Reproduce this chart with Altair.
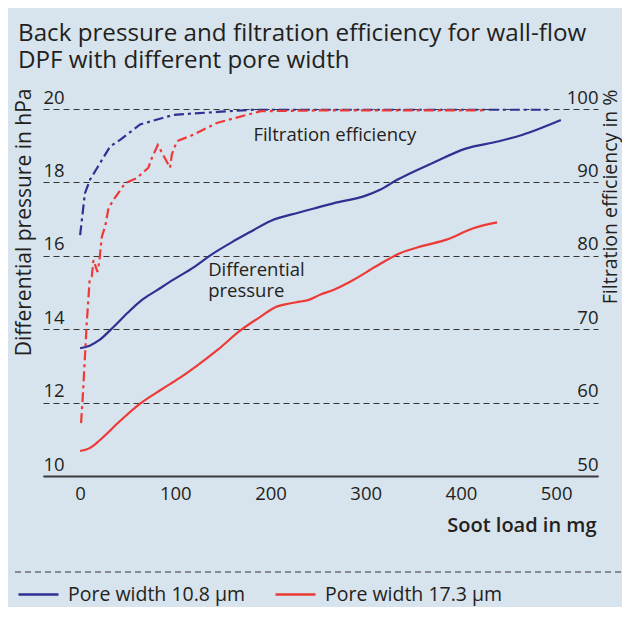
import altair as alt
import pandas as pd

series = ["Pore width 10.8 µm", "Pore width 17.3 µm"]
colors = ["#2e3192", "#ee3a37"]

# Differential pressure (hPa)
dp_blue_x = [0, 10, 20, 35, 50, 65, 80, 98, 120, 136, 160, 178, 200, 230, 250, 266, 300, 315, 333, 372, 405, 440, 465, 505]
dp_blue_y = [13.48, 13.55, 13.7, 14.06, 14.45, 14.8, 15.05, 15.35, 15.7, 16.0, 16.38, 16.64, 16.95, 17.18, 17.32, 17.43, 17.64, 17.8, 18.07, 18.55, 18.92, 19.12, 19.3, 19.7]
dp_red_x = [0, 10, 20, 40, 63, 85, 105, 125, 145, 168, 190, 205, 220, 231, 240, 252, 266, 287, 310, 336, 360, 385, 413, 438]
dp_red_y = [10.68, 10.76, 10.96, 11.45, 11.97, 12.35, 12.68, 13.05, 13.45, 13.96, 14.35, 14.6, 14.7, 14.75, 14.8, 14.94, 15.07, 15.34, 15.7, 16.07, 16.27, 16.44, 16.75, 16.91]

# Filtration efficiency (%)
fe_blue_x = [0, 5, 10.5, 18, 31.5, 42, 63, 98, 144, 182, 250, 350, 494]
fe_blue_y = [82.8, 88.5, 90.4, 92.0, 94.9, 95.8, 97.9, 99.2, 99.6, 99.9, 99.9, 99.9, 99.9]
fe_red_x = [1, 3, 7, 10, 12.3, 14, 18.2, 20.3, 22.8, 26.3, 29.8, 35, 47.3, 59.5, 71.7, 75.3, 81.6, 94.5, 96.3, 101.6, 119, 143.6, 175, 190, 250, 340, 425]
fe_red_y = [57.2, 61.3, 70.9, 76.7, 77.2, 79.4, 77.8, 79.4, 82.6, 84.0, 86.5, 87.6, 89.9, 90.6, 92.0, 93.3, 95.1, 92.0, 93.8, 95.6, 96.5, 98.1, 99.2, 99.7, 99.8, 99.8, 99.8]

x_ticks = [0, 100, 200, 300, 400, 500]
left_ticks = [10, 12, 14, 16, 18, 20]
right_ticks = [50, 60, 70, 80, 90, 100]

ann_text = ["Filtration efficiency", "Differential", "pressure"]
ann_x = [182, 134.5, 134.5]
ann_y = [19.3, 15.62, 15.04]

title_lines = ["Back pressure and filtration efficiency for wall-flow",
               "DPF with different pore width"]

FONT = "Open Sans"
TXT = "#231f20"
BG = "#d7e3ed"

dp = pd.concat([
    pd.DataFrame({"x": dp_blue_x, "v": dp_blue_y, "s": series[0]}),
    pd.DataFrame({"x": dp_red_x, "v": dp_red_y, "s": series[1]}),
])
fe = pd.concat([
    pd.DataFrame({"x": fe_blue_x, "v": fe_blue_y, "s": series[0]}),
    pd.DataFrame({"x": fe_red_x, "v": fe_red_y, "s": series[1]}),
])
ann = pd.DataFrame({"t": ann_text, "x": ann_x, "y": ann_y})

xscale = alt.Scale(domain=[-39, 544], nice=False, zero=False)
color = alt.Color("s:N", scale=alt.Scale(domain=series, range=colors),
                  legend=alt.Legend(title=None, orient="none", legendX=-26, legendY=464,
                                    direction="horizontal", symbolType="stroke",
                                    symbolSize=1600, symbolStrokeWidth=2.5,
                                    labelFont=FONT, labelFontSize=19.5, labelColor=TXT,
                                    labelOffset=8, columnPadding=24, padding=0,
                                    labelLimit=400))

xaxis = alt.Axis(values=x_ticks, grid=False, ticks=False, domainColor="#3a3a3a",
                 domainWidth=2, labelFont=FONT, labelFontSize=18.5, labelColor=TXT,
                 labelPadding=8, title="Soot load in mg", titleFont=FONT,
                 titleFontSize=20, titleFontWeight=600, titleColor=TXT,
                 titleAlign="right", titleAnchor="end", titleX=553, titleY=49,
                 titleBaseline="middle")

pressure = alt.Chart(dp).mark_line(strokeWidth=2.2, interpolate="monotone").encode(
    x=alt.X("x:Q", scale=xscale, axis=xaxis),
    y=alt.Y("v:Q", scale=alt.Scale(domain=[10, 20], nice=False, zero=False),
            axis=alt.Axis(values=left_ticks, orient="left", ticks=False, domain=False,
                          grid=True, gridDash=[6, 4], gridColor="#333333", gridWidth=1,
                          labelAlign="left", labelPadding=0, labelBaseline="middle",
                          labelOffset=-12, labelFont=FONT, labelFontSize=18.5,
                          labelColor=TXT,
                          title="Differential pressure in hPa", titleFont=FONT,
                          titleFontSize=21, titleFontWeight="normal", titleColor=TXT,
                          titleAngle=270, titleAlign="right", titleBaseline="middle",
                          titleX=-19, titleY=-21)),
    color=color,
)

efficiency = alt.Chart(fe).mark_line(strokeWidth=2.2, strokeDash=[10, 4, 3, 4]).encode(
    x=alt.X("x:Q", scale=xscale),
    y=alt.Y("v:Q", scale=alt.Scale(domain=[50, 100], nice=False, zero=False),
            axis=alt.Axis(values=right_ticks, orient="right", ticks=False, domain=False,
                          grid=False, labelAlign="right", labelPadding=0,
                          labelBaseline="middle", labelOffset=-12, labelFont=FONT,
                          labelFontSize=18.5, labelColor=TXT,
                          title="Filtration efficiency  in %", titleFont=FONT,
                          titleFontSize=19.5, titleFontWeight="normal", titleColor=TXT,
                          titleAngle=270, titleAlign="right", titleBaseline="middle",
                          titleX=12, titleY=-20)),
    color=color,
)

labels = alt.Chart(ann).mark_text(align="left", baseline="middle", font=FONT,
                                  fontSize=18.5, color=TXT).encode(
    x=alt.X("x:Q", scale=xscale),
    y=alt.Y("y:Q", scale=alt.Scale(domain=[10, 20], nice=False, zero=False), axis=None),
    text="t:N",
)

sep = alt.Chart(pd.DataFrame({"k": [0]})).mark_rule(
    color="#333333", strokeDash=[6, 4], strokeWidth=1).encode(
    x=alt.value(-28), x2=alt.value(580), y=alt.value(463))

chart = alt.layer(pressure, efficiency, labels, sep).resolve_scale(
    y="independent", color="shared"
).properties(
    width=555, height=367,
    title=alt.TitleParams(text=title_lines, anchor="start", frame="group", dx=-25,
                          font=FONT, fontSize=24.2, fontWeight="normal", color=TXT,
                          lineHeight=27, offset=15),
    autosize=alt.AutoSizeParams(type="none"),
    padding={"left": 35, "top": 101, "right": 24, "bottom": 131},
    background=BG,
).configure_view(stroke=None)

chart.save("out.html", embed_options={"renderer": "svg", "actions": False})
